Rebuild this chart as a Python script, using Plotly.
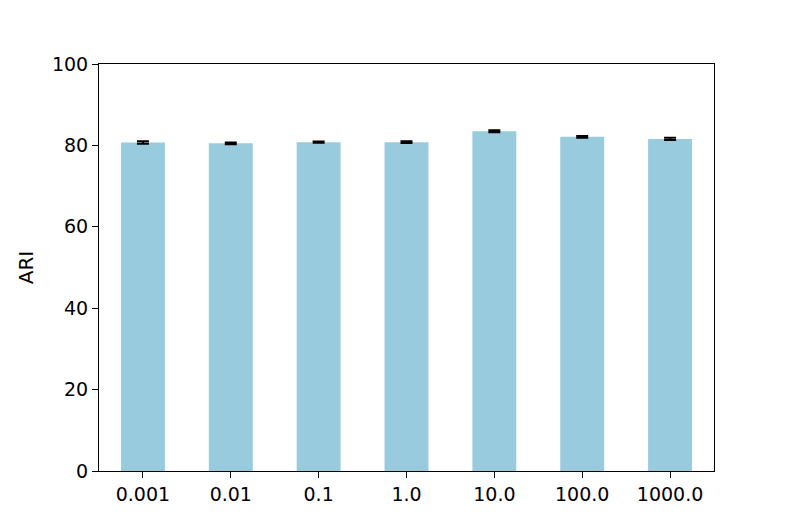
import plotly.graph_objects as go

# data
categories = ['0.001', '0.01', '0.1', '1.0', '10.0', '100.0', '1000.0']
ari = [80.7, 80.5, 80.8, 80.8, 83.5, 82.1, 81.6]
ari_err = [0.3, 0.2, 0.15, 0.2, 0.25, 0.2, 0.25]
y_ticks = [0, 20, 40, 60, 80, 100]

bar_color = 'rgb(152,203,222)'
ink = 'rgb(0,0,0)'

fig = go.Figure()
fig.add_trace(go.Bar(x=list(range(len(categories))), y=ari,
                     width=0.5,
                     marker=dict(color=bar_color, line=dict(width=0)),
                     error_y=dict(type='data', array=ari_err, visible=True,
                                  color=ink, thickness=2, width=6)))

# page body adds ~7px offset, so margins are shifted to compensate
fig.update_layout(width=793, height=529,
                  margin=dict(l=91, r=87, t=56, b=66),
                  plot_bgcolor='white', paper_bgcolor='white',
                  showlegend=False,
                  font=dict(family='DejaVu Sans', size=19, color=ink))

fig.update_xaxes(range=[-0.5, 6.5],
                 tickmode='array', tickvals=list(range(len(categories))),
                 ticktext=categories,
                 showline=True, linewidth=1, linecolor=ink, mirror=True,
                 ticks='outside', ticklen=6, tickwidth=1, tickcolor=ink,
                 showgrid=False, zeroline=False)
fig.update_yaxes(range=[0, 100], tickvals=y_ticks,
                 title=dict(text='ARI', standoff=12, font=dict(size=20)),
                 showline=True, linewidth=1, linecolor=ink, mirror=True,
                 ticks='outside', ticklen=6, tickwidth=1, tickcolor=ink,
                 showgrid=False, zeroline=False)

fig.write_html("out.html")
